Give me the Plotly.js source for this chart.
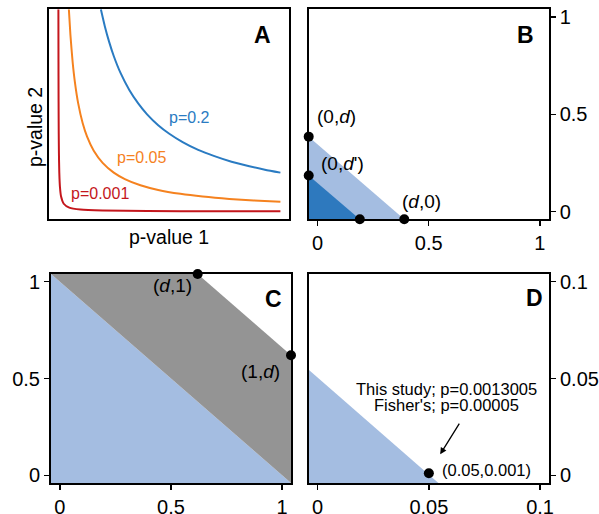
<!DOCTYPE html>
<html><head><meta charset="utf-8">
<script src="https://cdn.plot.ly/plotly-3.0.1.min.js"></script>
<style>html,body{margin:0;padding:0;background:#fff}</style>
</head><body><div id="plot" style="width:599px;height:514px"></div>
<script>
// Panel A: iso-curves (p-value 1 vs p-value 2)
const blueX = [0.192,0.21,0.23,0.25,0.28,0.32,0.36,0.40,0.45,0.50,0.56,0.63,0.70,0.78,0.86,0.93,1.0];
const blueY = [1.04,0.952,0.870,0.80,0.714,0.625,0.556,0.50,0.444,0.40,0.357,0.317,0.286,0.256,0.233,0.215,0.20];
const orangeX = [0.048,0.055,0.065,0.075,0.09,0.11,0.13,0.16,0.20,0.25,0.30,0.37,0.45,0.55,0.65,0.77,0.88,1.0];
const orangeY = [1.04,0.909,0.769,0.667,0.556,0.455,0.385,0.3125,0.25,0.20,0.167,0.135,0.111,0.091,0.077,0.065,0.057,0.05];
const redX = [0.00096,0.0011,0.0013,0.0016,0.002,0.0025,0.0033,0.005,0.008,0.013,0.025,0.05,0.1,0.2,0.4,0.7,1.0];
const redY = [1.04,0.91,0.77,0.625,0.5,0.4,0.303,0.2,0.125,0.077,0.04,0.02,0.01,0.005,0.0025,0.00143,0.001];
const curveLabels = ['p=0.2','p=0.05','p=0.001'];

// Panel B: regions and points
const bOuterX = [-0.04, 0.39, -0.04];
const bOuterY = [-0.04, -0.04, 0.385];
const bInnerX = [-0.04, 0.19, -0.04];
const bInnerY = [-0.04, -0.04, 0.185];
const bPtsX = [-0.04, -0.04, 0.19, 0.39];
const bPtsY = [0.385, 0.185, -0.04, -0.04];

// Panel C
const cBlueX = [-0.04, 1.04, -0.04];
const cBlueY = [-0.04, -0.04, 1.04];
const cGrayX = [-0.04, 0.62, 1.04, 1.04];
const cGrayY = [1.04, 1.04, 0.62, -0.04];
const cPtsX = [0.62, 1.04];
const cPtsY = [1.04, 0.62];

// Panel D
const dBlueX = [-0.004, 0.0543, -0.004];
const dBlueY = [-0.004, -0.004, 0.0545];
const dPtX = [0.05];
const dPtY = [0.001];

// tick labels
const unitTicks = [0, 0.5, 1];
const unitTickText = ['0', '0.5', '1'];
const dTicks = [0, 0.05, 0.1];
const dTickText = ['0', '0.05', '0.1'];

const FONT = 'Liberation Sans, Arial, Helvetica, sans-serif';
const lightBlue = '#a4bde1';
const darkBlue = '#2e79be';
const gray = '#949494';

function poly(x, y, color, xa, ya) {
  return {x, y, xaxis: xa, yaxis: ya, type: 'scatter', mode: 'lines', fill: 'toself',
          fillcolor: color, line: {width: 0, color: color}, hoverinfo: 'skip', showlegend: false};
}
function pts(x, y, xa, ya) {
  return {x, y, xaxis: xa, yaxis: ya, type: 'scatter', mode: 'markers', cliponaxis: false,
          marker: {color: 'black', size: 10}, showlegend: false};
}
function curve(x, y, color) {
  return {x, y, xaxis: 'x', yaxis: 'y', type: 'scatter', mode: 'lines',
          line: {color: color, width: 2, shape: 'spline', smoothing: 0.6}, showlegend: false};
}

const traces = [
  curve(blueX, blueY, '#2a7bc2'),
  curve(orangeX, orangeY, '#f5821f'),
  curve(redX, redY, '#c4161c'),
  poly(bOuterX, bOuterY, lightBlue, 'x2', 'y2'),
  poly(bInnerX, bInnerY, darkBlue, 'x2', 'y2'),
  pts(bPtsX, bPtsY, 'x2', 'y2'),
  poly(cBlueX, cBlueY, lightBlue, 'x3', 'y3'),
  poly(cGrayX, cGrayY, gray, 'x3', 'y3'),
  pts(cPtsX, cPtsY, 'x3', 'y3'),
  poly(dBlueX, dBlueY, lightBlue, 'x4', 'y4'),
  pts(dPtX, dPtY, 'x4', 'y4')
];

const frame = {showline: true, mirror: true, linecolor: 'black', linewidth: 2,
               showgrid: false, zeroline: false, fixedrange: true};
function tickAx(domain, range, vals, text, side, anchor) {
  return Object.assign({}, frame, {domain, range, anchor, side, tickmode: 'array',
    tickvals: vals, ticktext: text, ticks: 'outside', ticklen: 5, tickwidth: 1.5,
    tickcolor: 'black', tickfont: {family: FONT, size: 20, color: 'black'}});
}

const R1 = [-0.04, 1.04];
const RD = [-0.004, 0.104];
const xA = [49.3/599, 289.3/599], yTop = [1-219.3/514, 1-9.3/514];
const xB = [308.7/599, 548.7/599];
const xC = [51/599, 291/599], yBot = [1-483/514, 1-274/514];
const xD = [308.7/599, 549/599];

const layout = {
  width: 599, height: 514, margin: {l: 0, r: 0, t: 0, b: 0},
  paper_bgcolor: 'white', plot_bgcolor: 'white', showlegend: false,
  font: {family: FONT, color: 'black'},
  xaxis: Object.assign({}, frame, {domain: xA, range: R1, showticklabels: false, ticks: '', anchor: 'y'}),
  yaxis: Object.assign({}, frame, {domain: yTop, range: R1, showticklabels: false, ticks: '', anchor: 'x'}),
  xaxis2: tickAx(xB, R1, unitTicks, unitTickText, 'bottom', 'y2'),
  yaxis2: tickAx(yTop, R1, unitTicks, unitTickText, 'right', 'x2'),
  xaxis3: tickAx(xC, R1, unitTicks, unitTickText, 'bottom', 'y3'),
  yaxis3: tickAx(yBot, R1, unitTicks, unitTickText, 'left', 'x3'),
  xaxis4: tickAx(xD, RD, dTicks, dTickText, 'bottom', 'y4'),
  yaxis4: tickAx(yBot, RD, dTicks, dTickText, 'right', 'x4'),
  annotations: []
};

const ann = layout.annotations;
function lab(text, x, y, xr, yr, size, opts) {
  ann.push(Object.assign({text, x, y, xref: xr, yref: yr, showarrow: false,
    font: {family: FONT, size: size, color: 'black'}, xanchor: 'center', yanchor: 'middle'}, opts || {}));
}
// panel letters
lab('<b>A</b>', 0.8875, 0.876, 'x domain', 'y domain', 23);
lab('<b>B</b>', 0.905, 0.876, 'x2 domain', 'y2 domain', 23);
lab('<b>C</b>', 0.925, 0.878, 'x3 domain', 'y3 domain', 23);
lab('<b>D</b>', 0.939, 0.885, 'x4 domain', 'y4 domain', 23);
// panel A
lab(curveLabels[0], 0.59, 0.481, 'x', 'y', 16, {font: {family: FONT, size: 16, color: '#2a7bc2'}});
lab(curveLabels[1], 0.375, 0.279, 'x', 'y', 16, {font: {family: FONT, size: 16, color: '#f5821f'}});
lab(curveLabels[2], 0.19, 0.094, 'x', 'y', 16, {font: {family: FONT, size: 16, color: '#c4161c'}});
lab('p-value 1', 169/599, 1-237/514, 'paper', 'paper', 19.5);
lab('p-value 2', 35/599, 1-127/514, 'paper', 'paper', 19.5, {textangle: -90});
// panel B
lab('(0,<i>d</i>)', -0.0116, 0.488, 'x2', 'y2', 19, {xanchor: 'left'});
lab("(0,<i>d</i>')", 0.0077, 0.248, 'x2', 'y2', 19, {xanchor: 'left'});
lab('(<i>d</i>,0)', 0.371, 0.0505, 'x2', 'y2', 19, {xanchor: 'left'});
lab("(<i>d</i>',0)", 0.200, -0.114, 'x2', 'y2', 19);
// panel C
lab('(<i>d</i>,1)', 0.505, 0.982, 'x3', 'y3', 19);
lab('(1,<i>d</i>)', 0.904, 0.534, 'x3', 'y3', 19);
// panel D
lab('(0.05,0.001)', 0.0551, 0.00256, 'x4', 'y4', 16.5, {xanchor: 'left'});
lab('This study; p=0.0013005', 0.0581, 0.0447, 'x4', 'y4', 16.5);
lab("Fisher's; p=0.00005", 0.0581, 0.0362, 'x4', 'y4', 16.5);
ann.push({x: 0.0551, y: 0.0108, xref: 'x4', yref: 'y4', ax: 0.0641, ay: 0.0275,
  axref: 'x4', ayref: 'y4', showarrow: true, arrowhead: 2, arrowsize: 1, arrowwidth: 1.3,
  arrowcolor: 'black', text: ''});

Plotly.newPlot('plot', traces, layout, {staticPlot: true, displayModeBar: false});
</script></body></html>
